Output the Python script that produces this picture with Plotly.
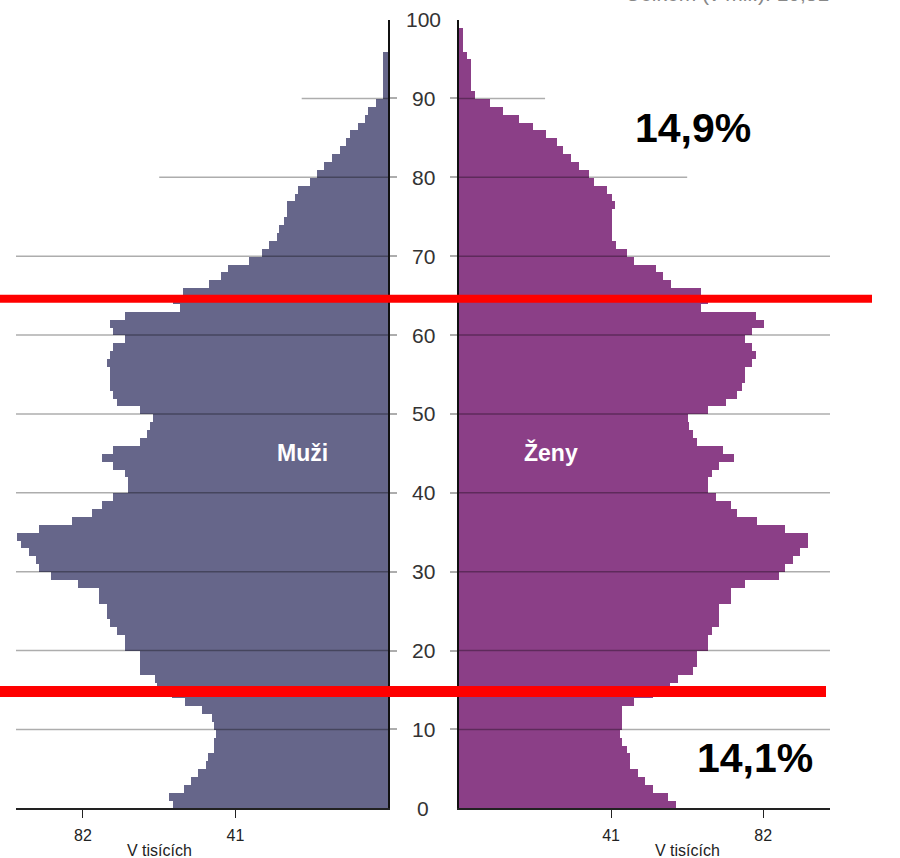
import plotly.graph_objects as go

# vek po jednotlivych letech 0..99
ages = list(range(100))

# muzi, v tisicich
muzi = [57.8, 58.9, 54.9, 52.9, 51.0, 49.0, 48.3, 46.9, 46.9, 46.2,
        46.9, 47.4, 50.0, 54.7, 58.0, 62.1, 62.7, 66.8, 66.8, 66.8,
        70.8, 70.8, 72.8, 74.6, 75.5, 75.5, 77.6, 77.6, 83.3, 90.5,
        93.8, 94.5, 96.5, 98.6, 99.8, 93.8, 84.9, 79.5, 76.9, 73.9,
        69.9, 69.9, 70.8, 73.9, 76.9, 73.9, 66.8, 64.8, 63.9, 63.3,
        66.8, 72.8, 73.9, 74.8, 74.8, 74.8, 75.5, 74.8, 73.9, 70.8,
        74.0, 74.6, 70.8, 55.9, 57.8, 55.0, 48.1, 44.9, 42.9, 37.3,
        34.0, 32.0, 29.9, 29.2, 27.9, 27.1, 27.1, 25.0, 24.3, 21.0,
        19.0, 17.2, 15.0, 13.0, 11.4, 10.3, 8.0, 6.1, 5.4, 3.1,
        1.34, 1.34, 1.34, 1.34, 1.34, 1.34, 0, 0, 0, 0]

# zeny, v tisicich
zeny = [58.4, 56.2, 52.2, 50.1, 48.2, 46.1, 46.1, 45.2, 44.0, 43.4,
        44.0, 44.0, 44.0, 47.3, 52.2, 57.0, 59.1, 63.2, 64.1, 64.1,
        67.2, 67.2, 68.1, 70.2, 70.2, 70.2, 73.3, 73.3, 77.1, 86.3,
        87.9, 89.9, 91.9, 94.0, 94.0, 87.9, 80.2, 75.0, 73.3, 69.3,
        67.2, 67.2, 68.1, 70.2, 74.1, 71.2, 64.1, 63.2, 62.1, 61.6,
        67.2, 72.1, 75.0, 76.2, 77.1, 77.1, 79.1, 80.1, 79.1, 77.1,
        79.1, 82.2, 80.1, 65.1, 67.2, 65.1, 57.1, 55.1, 53.0, 47.3,
        45.4, 42.2, 41.3, 41.3, 41.3, 41.3, 42.0, 41.3, 40.0, 36.4,
        35.1, 32.3, 30.1, 28.0, 26.3, 23.4, 20.0, 16.2, 11.9, 8.4,
        4.3, 3.1, 3.1, 3.1, 3.1, 2.1, 1.0, 1.0, 1.0, 0]

age_ticks = [0, 10, 20, 30, 40, 50, 60, 70, 80, 90, 100]
grid_ages = [10, 20, 30, 40, 50, 60, 70, 80, 90]
grid_reach = [100, 100, 100, 100, 100, 100, 100, 61.5, 23.2]
x_ticks = [41, 82]

# podily vekovych skupin
shares = ["14,1%", "71,0%", "14,9%"]
share_pos = [(79.8, 6.4), (101.9, 40.7), (63, 86.3)]
group_bounds = [14.8, 64.6]

FONT = "Liberation Sans, Arial, sans-serif"
MEN = "#66668a"
WOMEN = "#8b3f87"
GRID = "rgba(0,0,0,0.32)"

W, H = 900, 858

fig = go.Figure()

fig.add_trace(go.Bar(y=[a + 0.5 for a in ages], x=muzi, orientation="h", width=1,
                     marker=dict(color=MEN, line_width=0), xaxis="x", yaxis="y",
                     name="Muži"))
fig.add_trace(go.Bar(y=[a + 0.5 for a in ages], x=zeny, orientation="h", width=1,
                     marker=dict(color=WOMEN, line_width=0), xaxis="x2", yaxis="y2",
                     name="Ženy"))

ydom = [1 - 808.3 / H, 1 - 19.6 / H]

fig.update_layout(
    width=W, height=H,
    margin=dict(l=0, r=0, t=0, b=0),
    paper_bgcolor="white", plot_bgcolor="white",
    showlegend=False, bargap=0,
    font=dict(family=FONT, color="#222"),
    xaxis=dict(domain=[16 / W, 388 / W], range=[100, 0], showgrid=False, zeroline=False,
               showline=True, linecolor="#222", linewidth=1.5,
               tickvals=x_ticks, ticks="outside", ticklen=8, tickcolor="#222",
               tickfont=dict(size=16, color="#222"), ticklabelstandoff=4),
    xaxis2=dict(domain=[459 / W, 830 / W], range=[0, 100], showgrid=False, zeroline=False,
                showline=True, linecolor="#222", linewidth=1.5,
                tickvals=x_ticks, ticks="outside", ticklen=8, tickcolor="#222",
                tickfont=dict(size=16, color="#222"), ticklabelstandoff=4),
    yaxis=dict(domain=ydom, range=[0, 100], anchor="x", side="right", showgrid=False,
               zeroline=False, showline=True, linecolor="#111", linewidth=1.5,
               tickvals=grid_ages, ticks="outside", ticklen=7, tickcolor=GRID, tickwidth=1.5,
               showticklabels=False),
    yaxis2=dict(domain=ydom, range=[0, 100], anchor="x2", side="left", showgrid=False,
                zeroline=False, showline=True, linecolor="#111", linewidth=1.5,
                tickvals=grid_ages, ticks="outside", ticklen=7, tickcolor=GRID, tickwidth=1.5,
                showticklabels=False),
)

# mrizka pres sloupce
for a, r in zip(grid_ages, grid_reach):
    fig.add_shape(type="line", xref="x", yref="y", x0=r, x1=0, y0=a, y1=a,
                  line=dict(color=GRID, width=1.5), layer="above")
    fig.add_shape(type="line", xref="x2", yref="y2", x0=0, x1=r, y0=a, y1=a,
                  line=dict(color=GRID, width=1.5), layer="above")

# cervene hranice skupin
fig.add_shape(type="line", xref="paper", yref="y", x0=0, x1=826 / W,
              y0=group_bounds[0], y1=group_bounds[0], line=dict(color="#ff0000", width=11),
              layer="above")
fig.add_shape(type="line", xref="paper", yref="y", x0=0, x1=872 / W,
              y0=group_bounds[1], y1=group_bounds[1], line=dict(color="#ff0000", width=8),
              layer="above")

# popisky veku uprostred
for a in age_ticks:
    fig.add_annotation(x=423 / W, xref="paper", y=a, yref="y", text=str(a), showarrow=False,
                       xanchor="center", yanchor="middle",
                       font=dict(size=21, color="#333", family=FONT))

for t, (xv, yv) in zip(shares, share_pos):
    fig.add_annotation(x=xv, xref="x2", y=yv, yref="y", text="<b>" + t + "</b>",
                       showarrow=False, xanchor="center", yanchor="middle",
                       font=dict(size=41, color="black", family=FONT))

fig.add_annotation(x=23, xref="x", y=45.1, yref="y", text="<b>Muži</b>", showarrow=False,
                   font=dict(size=23, color="white", family=FONT))
fig.add_annotation(x=24.8, xref="x2", y=45.1, yref="y", text="<b>Ženy</b>", showarrow=False,
                   font=dict(size=23, color="white", family=FONT))

for xp in [159 / W, 687 / W]:
    fig.add_annotation(x=xp, xref="paper", y=1 - 850 / H, yref="paper", text="V tisících",
                       showarrow=False, xanchor="center", yanchor="middle",
                       font=dict(size=16, color="#222", family=FONT))

# oriznuty nadpis nahore vpravo
fig.add_annotation(x=727 / W, xref="paper", y=1, yref="paper",
                   text="Celkem (v mil.): 10,51", showarrow=False,
                   xanchor="center", yanchor="bottom", yshift=-7,
                   font=dict(size=21, color="#888", family=FONT))

fig.write_html("out.html", config={"displayModeBar": False},
               post_script="document.body.style.margin='0px';")
